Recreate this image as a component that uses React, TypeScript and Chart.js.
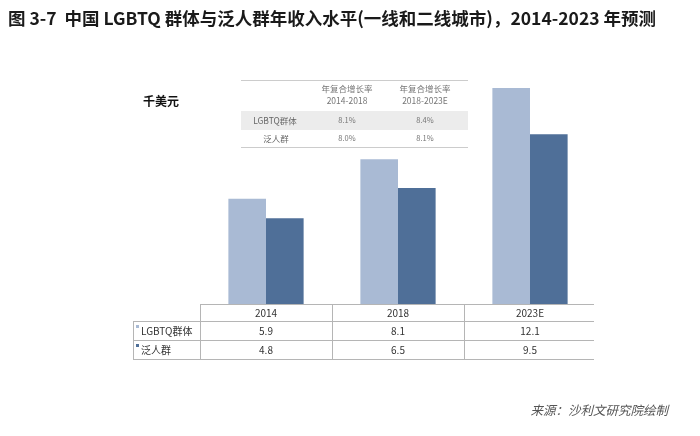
import React, { useEffect, useRef } from "react";
import { Chart, registerables } from "chart.js";

Chart.register(...registerables);

const categories = ["2014", "2018", "2023E"];
const seriesNames = ["LGBTQ群体", "泛人群"];
const lgbtqValues = [5.9, 8.1, 12.1];
const generalValues = [4.8, 6.5, 9.5];
const lgbtqLabels = ["5.9", "8.1", "12.1"];
const generalLabels = ["4.8", "6.5", "9.5"];
const cagrHeaderTop = ["年复合增长率", "年复合增长率"];
const cagrHeaderBottom = ["2014-2018", "2018-2023E"];
const cagrLgbtq = ["8.1%", "8.4%"];
const cagrGeneral = ["8.0%", "8.1%"];
const titleText = "图 3-7  中国 LGBTQ 群体与泛人群年收入水平(一线和二线城市)，2014-2023 年预测";
const unitText = "千美元";
const sourceText = "来源：沙利文研究院绘制";

const LIGHT = "#a9bad4";
const DARK = "#4f6f98";
const FONT = '"Noto Sans CJK SC", "Noto Sans", sans-serif';

const overlay = {
  id: "overlay",
  afterDraw(chart: any) {
    const ctx = chart.ctx as CanvasRenderingContext2D;
    const xs = chart.scales.x;
    const area = chart.chartArea;
    const base = area.bottom;
    const colW = (area.right - area.left) / categories.length;
    ctx.save();

    // Title
    ctx.fillStyle = "#1a1a1a";
    ctx.font = `bold 17.5px ${FONT}`;
    ctx.textBaseline = "middle";
    ctx.textAlign = "left";
    ctx.fillText(titleText, 8, 18, 654);

    // Unit
    ctx.font = `bold 12px ${FONT}`;
    ctx.fillStyle = "#111";
    ctx.fillText(unitText, 143, 101);

    // Source
    ctx.font = `italic 12.5px ${FONT}`;
    ctx.fillStyle = "#555";
    ctx.textAlign = "right";
    ctx.fillText(sourceText, 668, 410);

    // Bottom data table
    ctx.strokeStyle = "#b5b5b5";
    ctx.lineWidth = 1;
    const tLeft = 133;
    const tRight = area.right - 2;
    const r1 = base + 17;
    const r2 = r1 + 19;
    const r3 = r2 + 19;
    const hl = (y: number, x0: number, x1: number) => {
      ctx.beginPath();
      ctx.moveTo(x0, Math.round(y) + 0.5);
      ctx.lineTo(x1, Math.round(y) + 0.5);
      ctx.stroke();
    };
    const vl = (x: number, y0: number, y1: number) => {
      ctx.beginPath();
      ctx.moveTo(Math.round(x) + 0.5, y0);
      ctx.lineTo(Math.round(x) + 0.5, y1);
      ctx.stroke();
    };
    hl(base, area.left, tRight);
    hl(r1, tLeft, tRight);
    hl(r2, tLeft, tRight);
    hl(r3, tLeft, tRight);
    vl(tLeft, r1, r3);
    for (let i = 0; i < categories.length; i++) {
      vl(area.left + i * colW, base, r3);
    }
    ctx.font = `10px ${FONT}`;
    ctx.fillStyle = "#333";
    ctx.textAlign = "center";
    categories.forEach((c, i) => {
      const cx = xs.getPixelForValue(i);
      ctx.fillText(c, cx, (base + r1) / 2 + 1);
      ctx.fillText(lgbtqLabels[i], cx, (r1 + r2) / 2 + 1);
      ctx.fillText(generalLabels[i], cx, (r2 + r3) / 2 + 1);
    });
    ctx.textAlign = "left";
    ctx.fillStyle = LIGHT;
    ctx.fillRect(136, r1 + 4, 3, 3);
    ctx.fillStyle = DARK;
    ctx.fillRect(136, r2 + 4, 3, 3);
    ctx.fillStyle = "#333";
    ctx.fillText(seriesNames[0], 141, (r1 + r2) / 2 + 1);
    ctx.fillText(seriesNames[1], 141, (r2 + r3) / 2 + 1);

    // Inset CAGR table
    const iL = 241, iR = 468;
    const iTop = 80, iH1 = 111, iH2 = 130, iBot = 147;
    ctx.fillStyle = "#ffffff";
    ctx.fillRect(iL, iTop, iR - iL, iBot - iTop);
    ctx.fillStyle = "#ececec";
    ctx.fillRect(iL, iH1, iR - iL, iH2 - iH1);
    ctx.strokeStyle = "#cccccc";
    hl(iTop, iL, iR);
    hl(iBot, iL, iR);
    ctx.fillStyle = "#777";
    ctx.textAlign = "center";
    const colC = [347, 425];
    colC.forEach((cx, j) => {
      ctx.font = `8.5px ${FONT}`;
      ctx.fillText(cagrHeaderTop[j], cx, 89);
      ctx.fillText(cagrHeaderBottom[j], cx, 101);
      ctx.font = `7.5px ${FONT}`;
      ctx.fillText(cagrLgbtq[j], cx, 120.5);
      ctx.fillText(cagrGeneral[j], cx, 138.5);
    });
    ctx.font = `8.5px ${FONT}`;
    ctx.fillStyle = "#666";
    ctx.fillText(seriesNames[0], 275, 120.5);
    ctx.fillText(seriesNames[1], 276, 138.5);

    ctx.restore();
  },
};

export default function App() {
  const ref = useRef<HTMLCanvasElement | null>(null);
  useEffect(() => {
    if (!ref.current) return;
    const chart = new Chart(ref.current, {
      type: "bar",
      data: {
        labels: categories,
        datasets: [
          {
            label: seriesNames[0],
            data: lgbtqValues,
            backgroundColor: LIGHT,
            barPercentage: 1,
            categoryPercentage: 0.57,
          },
          {
            label: seriesNames[1],
            data: generalValues,
            backgroundColor: DARK,
            barPercentage: 1,
            categoryPercentage: 0.57,
          },
        ],
      },
      options: {
        responsive: false,
        animation: false,
        layout: { padding: { top: 54, bottom: 132, left: 200, right: 104 } },
        plugins: { legend: { display: false }, tooltip: { enabled: false } },
        scales: {
          x: { display: false, offset: true },
          y: { display: false, min: 0, max: 14 },
        },
      },
      plugins: [overlay],
    });
    return () => chart.destroy();
  }, []);
  return (
    <div style={{ position: "absolute", left: 0, top: 0, width: 700, height: 436, background: "#fff" }}>
      <canvas ref={ref} width={700} height={436} style={{ display: "block" }} />
    </div>
  );
}
